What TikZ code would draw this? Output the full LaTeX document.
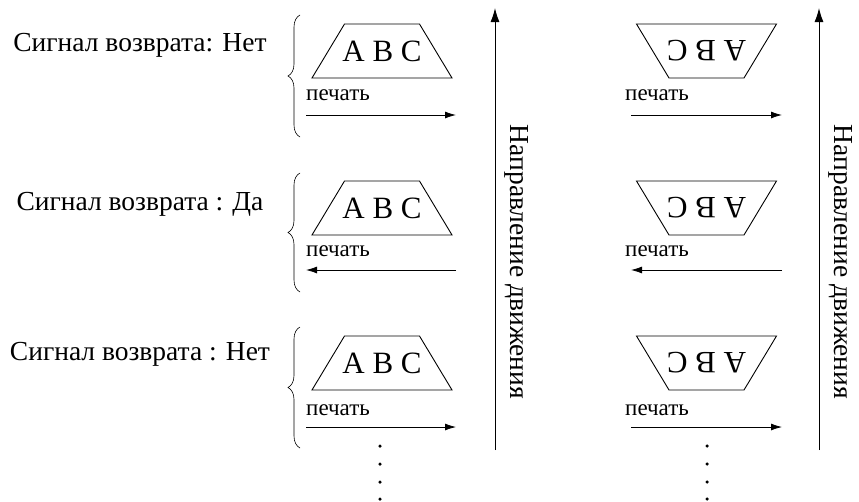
\documentclass[tikz,border=0pt]{standalone}
\usepackage{fontspec}
\setmainfont{Liberation Serif}
\usetikzlibrary{arrows.meta,positioning,decorations.pathreplacing}

\begin{document}
\begin{tikzpicture}[x=1pt, y=-1pt,
    sheet/.style={inner sep=0pt, font=\fontsize{31}{31}\selectfont},
    flipped/.style={sheet, rotate=180},
    outline/.style={line width=0.9pt, line join=miter},
    signal/.style={inner sep=0pt, font=\fontsize{27.5}{27.5}\selectfont},
    printlbl/.style={anchor=base west, inner sep=0pt, font=\fontsize{23}{23}\selectfont},
    feed/.style={-{Latex[length=11pt,width=7pt]}, line width=0.8pt},
    motion/.style={-{Latex[length=14pt,width=9pt]}, line width=1pt},
    grp/.style={decorate, decoration={brace, amplitude=12pt}, line width=0.6pt},
    dot/.style={circle, fill, inner sep=0pt, minimum size=3.5pt}
  ]
  \useasboundingbox (0,0) rectangle (859,501);

  % signal labels and braces
  \node[signal] (sig1) at (140,45) {Сигнал возврата: Нет};
  \node[signal] (sig2) at (140,204) {Сигнал возврата : Да};
  \node[signal] (sig3) at (140,354) {Сигнал возврата : Нет};
  \draw[grp] (300,137) -- (300,15);
  \draw[grp] (300,292) -- (300,173);
  \draw[grp] (300,448) -- (300,327);

  % left column
  \node[sheet] (l1) at (382,51) {A B C};
  \node[sheet] (l2) at (382,208) {A B C};
  \node[sheet] (l3) at (382,363) {A B C};
  \foreach \n in {l1,l2,l3}
    \draw[outline] ([shift={(-70,27)}]\n.center) -- ([shift={(70,27)}]\n.center)
      -- ([shift={(37.5,-27)}]\n.center) -- ([shift={(-37.5,-27)}]\n.center) -- cycle;
  \node[printlbl] (lp1) at (306,100) {печать};
  \node[printlbl] (lp2) at (306,256) {печать};
  \node[printlbl] (lp3) at (306,415) {печать};
  \coordinate (la1) at (306,115); \coordinate (lb1) at (456,115);
  \coordinate (la2) at (306,270); \coordinate (lb2) at (456,270);
  \coordinate (la3) at (306,427); \coordinate (lb3) at (456,427);
  \draw[feed] (la1) -- (lb1);
  \draw[feed] (lb2) -- (la2);
  \draw[feed] (la3) -- (lb3);

  % right column
  \node[flipped] (r1) at (706.5,51) {A B C};
  \node[flipped] (r2) at (706.5,208) {A B C};
  \node[flipped] (r3) at (706.5,363) {A B C};
  \foreach \n in {r1,r2,r3}
    \draw[outline] ([shift={(-70,-27)}]\n.center) -- ([shift={(70,-27)}]\n.center)
      -- ([shift={(37.5,27)}]\n.center) -- ([shift={(-37.5,27)}]\n.center) -- cycle;
  \node[printlbl] (rp1) at (625,100) {печать};
  \node[printlbl] (rp2) at (625,256) {печать};
  \node[printlbl] (rp3) at (625,415) {печать};
  \coordinate (ra1) at (631,115); \coordinate (rb1) at (782,115);
  \coordinate (ra2) at (631,270); \coordinate (rb2) at (782,270);
  \coordinate (ra3) at (631,427); \coordinate (rb3) at (782,427);
  \draw[feed] (ra1) -- (rb1);
  \draw[feed] (rb2) -- (ra2);
  \draw[feed] (ra3) -- (rb3);

  % continuation dots
  \foreach \y [count=\i] in {446,464,482,499} {
    \node[dot] (ld\i) at (380,\y) {};
    \node[dot] (rd\i) at (707,\y) {};
  }

  % direction of motion
  \coordinate (m1s) at (495,450); \coordinate (m1e) at (495,8);
  \coordinate (m2s) at (819,450); \coordinate (m2e) at (819,8);
  \draw[motion] (m1s) -- (m1e);
  \draw[motion] (m2s) -- (m2e);
  \node[signal, rotate=-90] (dir1) at (517,262) {Направление движения};
  \node[signal, rotate=-90] (dir2) at (841,262) {Направление движения};
\end{tikzpicture}
\end{document}
